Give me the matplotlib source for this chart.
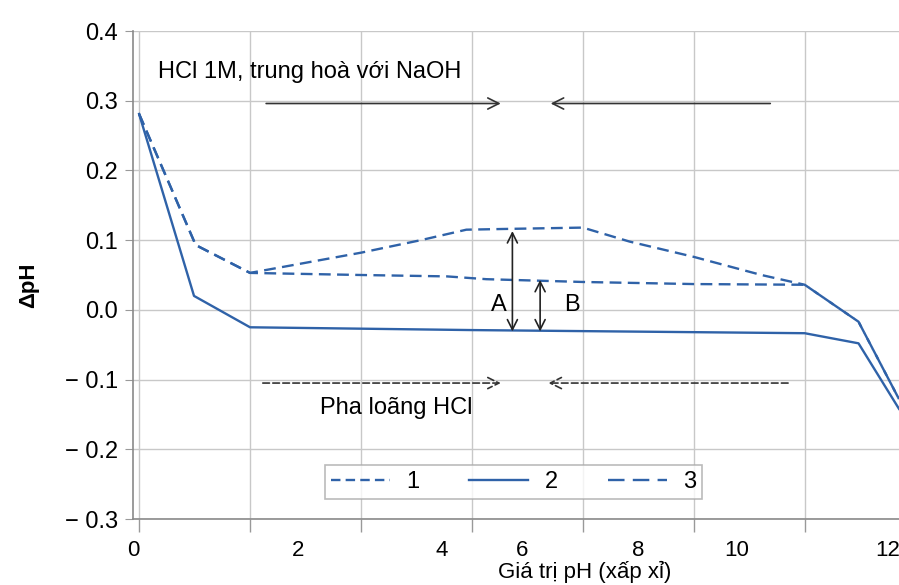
import matplotlib
matplotlib.use("Agg")
import matplotlib.pyplot as plt
from matplotlib.lines import Line2D
from matplotlib.ticker import FixedLocator, NullFormatter

plt.rcParams['font.family'] = ['Liberation Sans', 'DejaVu Sans']

# ---- data (x in pH-grid units, y = delta pH) ----
x_curve1 = [0.0, 1.02, 2.0, 4.0, 5.08, 5.9, 6.56, 8.0, 8.84, 10.0, 11.22, 12.0, 12.97, 13.7]
y_curve1 = [0.281, 0.093, 0.053, 0.082, 0.100, 0.115, 0.116, 0.118, 0.098, 0.076, 0.050, 0.036, -0.017, -0.128]

x_curve2 = [0.0, 0.99, 2.0, 6.0, 12.0, 12.97, 13.7]
y_curve2 = [0.281, 0.020, -0.025, -0.029, -0.0335, -0.048, -0.142]

x_curve3 = [0.0, 1.02, 2.0, 4.0, 5.55, 6.26, 8.0, 10.0, 12.0, 12.97, 13.7]
y_curve3 = [0.281, 0.093, 0.053, 0.050, 0.048, 0.044, 0.040, 0.037, 0.036, -0.017, -0.128]

legend_labels = ['1', '2', '3']
grid_x = [0, 2, 4, 6, 8, 10, 12, 14]
xtick_labels = ['0', '2', '4', '6', '8', '10', '12']
xtick_pos = [-0.11, 2.86, 5.46, 6.9, 9.0, 10.77, 13.5]
ytick_vals = [0.4, 0.3, 0.2, 0.1, 0.0, -0.1, -0.2, -0.3]
ytick_labels = ['0.4', '0.3', '0.2', '0.1', '0.0', '\u2212 0.1', '\u2212 0.2', '\u2212 0.3']

blue = '#2f62a8'
fig = plt.figure(figsize=(8.99, 5.85), dpi=100)
ax = fig.add_axes([133/899, 1-519/585, 1-133/899, (519-31)/585])

dash_main = (5, 2.7)
ax.plot(x_curve1, y_curve1, color=blue, lw=1.7, dashes=dash_main)
ax.plot(x_curve2, y_curve2, color=blue, lw=1.7)
ax.plot(x_curve3, y_curve3, color=blue, lw=1.7, dashes=dash_main)

ax.set_xlim(0, 13.7)
ax.set_ylim(-0.3, 0.4)

# grid at minor ticks, labels at major ticks
ax.xaxis.set_minor_locator(FixedLocator(grid_x))
ax.xaxis.set_minor_formatter(NullFormatter())
ax.set_xticks(xtick_pos)
ax.set_xticklabels(xtick_labels)
ax.tick_params(axis='x', which='major', length=0, pad=15, labelsize=16)
ax.tick_params(axis='x', which='minor', length=9, color='#999999', width=1)
ax.set_yticks(ytick_vals)
ax.set_yticklabels(ytick_labels)
ax.tick_params(axis='y', length=6, pad=5, labelsize=17, color='#999999')
ax.grid(True, which='minor', axis='x', color='#c8c8c8', lw=1)
ax.grid(True, which='major', axis='y', color='#c8c8c8', lw=1)
for s in ['top', 'right']:
    ax.spines[s].set_visible(False)
for s in ['left', 'bottom']:
    ax.spines[s].set_color('#8a8a8a')
    ax.spines[s].set_linewidth(1.2)

ax.set_ylabel('\u0394pH', fontsize=16, fontweight='bold')
ax.yaxis.set_label_coords(-0.122, 0.48)
fig.text(585/899, 1-572/585, 'Giá trị pH (xấp xỉ)', fontsize=16, ha='center', va='center')

# annotations
ax.text(0.34, 0.341, 'HCl 1M, trung hoà với NaOH', fontsize=17, ha='left', va='center')
arw = dict(arrowstyle='->', color='#333333', lw=1.2, mutation_scale=20)
ax.annotate('', xy=(6.57, 0.296), xytext=(2.24, 0.296), arrowprops=arw)
ax.annotate('', xy=(7.37, 0.296), xytext=(11.43, 0.296), arrowprops=arw)
arwd = dict(arrowstyle='->', color='#333333', lw=1.2, mutation_scale=20, linestyle=(0, (4, 2)))
ax.annotate('', xy=(6.57, -0.105), xytext=(2.18, -0.105), arrowprops=arwd)
ax.annotate('', xy=(7.33, -0.105), xytext=(11.75, -0.105), arrowprops=arwd)
ax.text(4.63, -0.141, 'Pha loãng HCl', fontsize=17, ha='center', va='center')

arw2 = dict(arrowstyle='<->', color='#222222', lw=1.2, mutation_scale=18, shrinkA=0, shrinkB=0)
ax.annotate('', xy=(6.73, 0.113), xytext=(6.73, -0.031), arrowprops=arw2)
ax.annotate('', xy=(7.23, 0.043), xytext=(7.23, -0.031), arrowprops=arw2)
ax.text(6.48, 0.007, 'A', fontsize=17, ha='center', va='center')
ax.text(7.8, 0.007, 'B', fontsize=17, ha='center', va='center')

h1 = Line2D([], [], color=blue, lw=1.7, dashes=(4, 2.2))
h2 = Line2D([], [], color=blue, lw=1.7)
h3 = Line2D([], [], color=blue, lw=1.7, dashes=(7, 3.5))
leg = ax.legend([h1, h2, h3], legend_labels, loc='center', bbox_to_anchor=(0.497, 0.076),
                ncol=3, fontsize=17, frameon=True, fancybox=False, edgecolor='#aaaaaa',
                handlelength=2.5, columnspacing=2.1, handletextpad=0.7, borderpad=0.25)
leg.get_frame().set_linewidth(1.2)

fig.savefig('out.png', dpi=100)
